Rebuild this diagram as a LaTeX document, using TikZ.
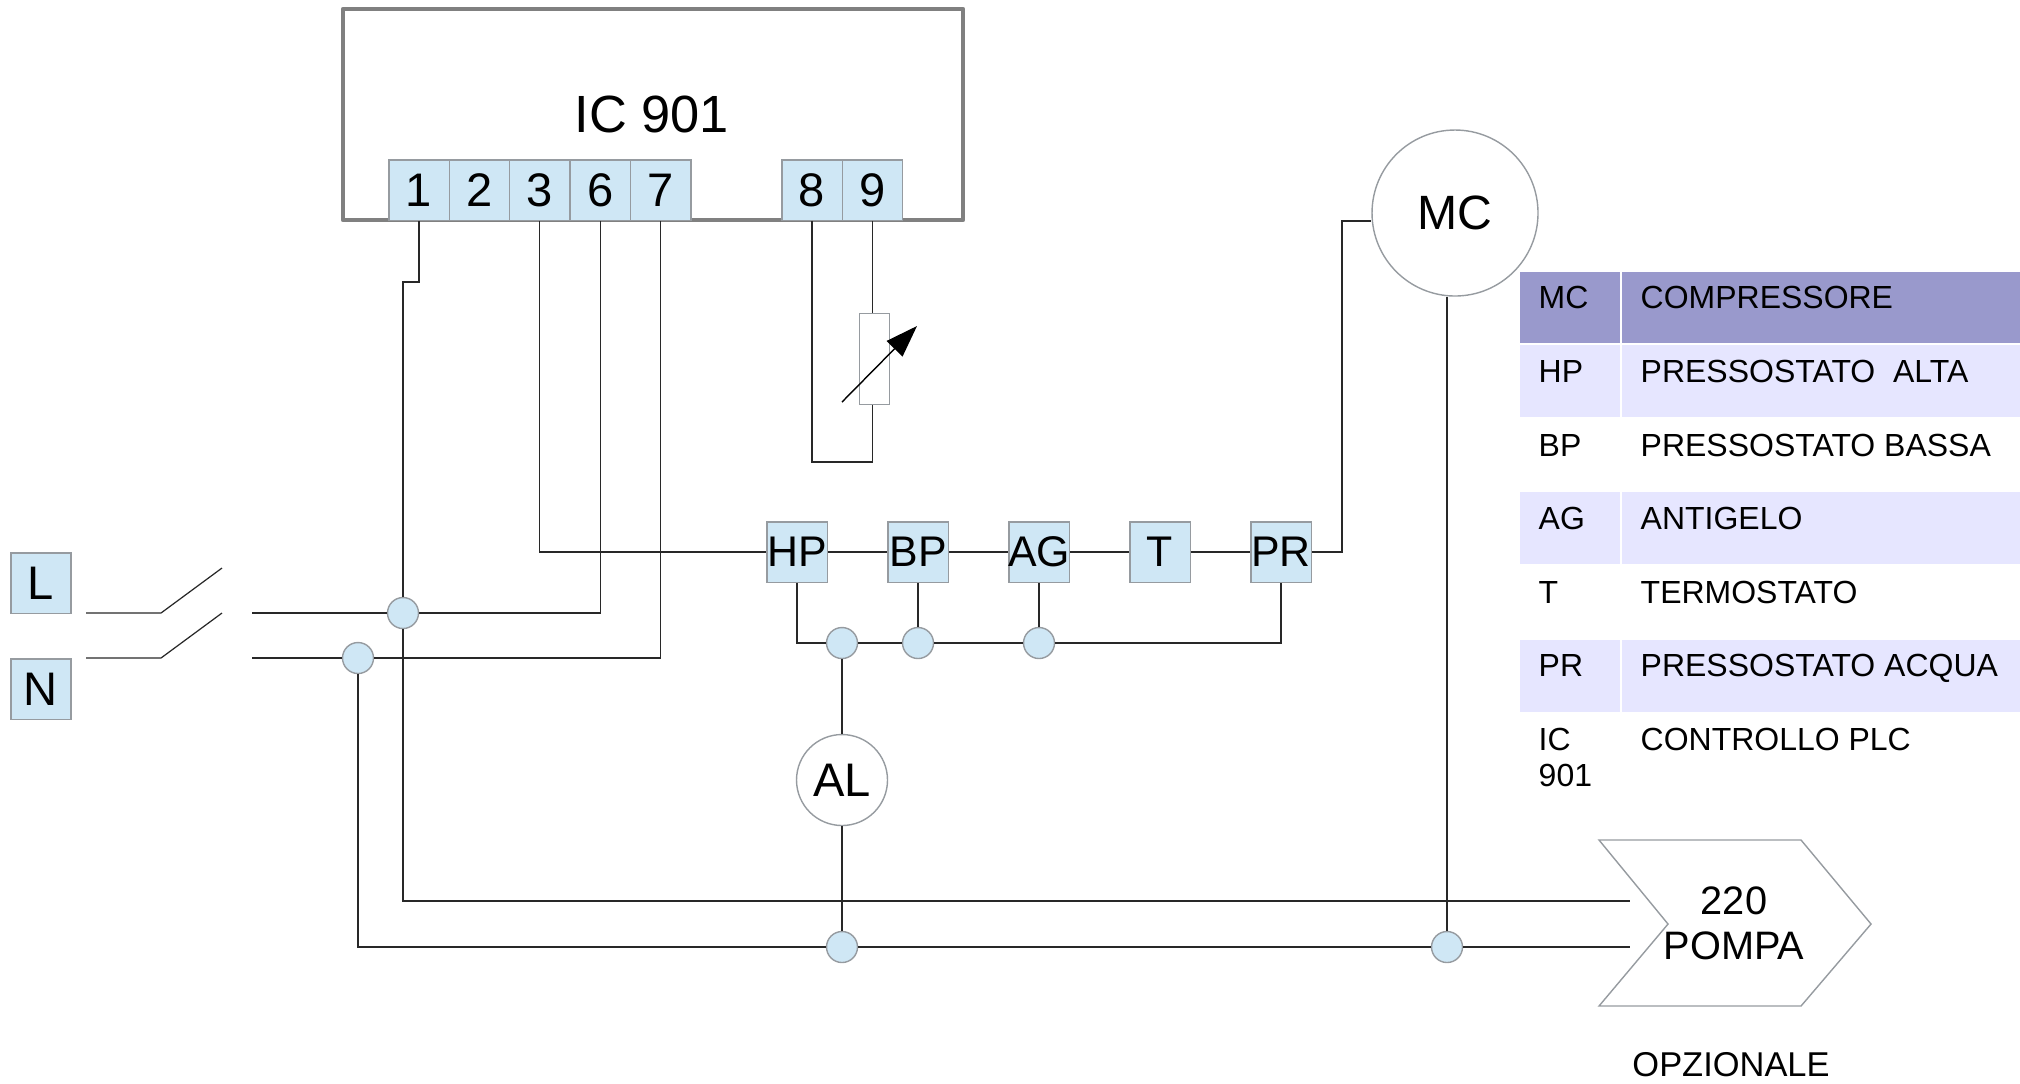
\documentclass[tikz,border=0pt]{standalone}
\usepackage{fontspec}
\setmainfont{Liberation Sans}
\usetikzlibrary{arrows.meta}
\definecolor{myTerm}{RGB}{207, 231, 245}
\definecolor{myEdge}{RGB}{150, 155, 160}
\definecolor{myWire}{RGB}{40, 40, 40}
\definecolor{myFrame}{RGB}{128, 128, 128}
\definecolor{myHead}{RGB}{153, 153, 204}
\definecolor{myBand}{RGB}{230, 230, 255}
\newcommand{\keepWidth}[1]{\makebox[0pt]{#1}}
\tikzset{
	term/.style={draw=myEdge, fill=myTerm, line width=0.4pt, inner sep=0pt, minimum width=6.04mm, minimum height=6.04mm, font=\fontsize{13.4}{15}\selectfont},
	sensor/.style={term, font=\fontsize{12.2}{14}\selectfont},
	joint/.style={draw=myEdge, fill=myTerm, circle, line width=0.4pt, inner sep=0pt, minimum size=3.1mm},
	round/.style={draw=myEdge, circle, line width=0.4pt, inner sep=0pt, font=\fontsize{13.4}{15}\selectfont},
	wire/.style={draw=myWire, line width=0.35pt},
	tabtext/.style={anchor=base west, inner sep=0pt, align=left, font=\fontsize{9.1}{10}\selectfont}
}

\begin{document}
\begin{tikzpicture}[x=0.1mm, y=-0.1mm]
	\useasboundingbox (0,0) rectangle (2020,1083);

	% controller
	\draw[myFrame, line width=1.3pt, line join=round] (343,9) rectangle (963,220);
	\draw (652,114) node[font=\fontsize{14.9}{18}\selectfont] (ic) {IC 901};
	\draw (419,190) node[term] (t1) {1};
	\draw (479.4,190) node[term] (t2) {2};
	\draw (539.8,190) node[term] (t3) {3};
	\draw (600.2,190) node[term] (t6) {6};
	\draw (660.6,190) node[term] (t7) {7};
	\draw (812,190) node[term] (t8) {8};
	\draw (872.4,190) node[term] (t9) {9};

	% line and neutral
	\draw (41,583) node[term] (L) {L};
	\draw (41,689) node[term] (N) {N};
	\draw (403,613) node[joint] (jL) {};
	\draw (358,658) node[joint] (jN) {};

	% safety chain
	\draw (797,552) node[sensor] (HP) {\keepWidth{HP}};
	\draw (918,552) node[sensor] (BP) {\keepWidth{BP}};
	\draw (1039,552) node[sensor] (AG) {\keepWidth{AG}};
	\draw (1160,552) node[sensor] (T) {T};
	\draw (1281,552) node[sensor] (PR) {\keepWidth{PR}};
	\draw (842,643) node[joint] (jHP) {};
	\draw (918,643) node[joint] (jBP) {};
	\draw (1039,643) node[joint] (jAG) {};

	% loads
	\draw (1455,213) node[round, minimum size=16.6mm, font=\fontsize{13.7}{16}\selectfont] (MC) {MC};
	\draw (842,780) node[round, minimum size=9.1mm] (AL) {AL};
	\draw (842,947) node[joint] (jAL) {};
	\draw (1447,947) node[joint] (jMC) {};

	% probe on 8 and 9
	\draw (874.5,359) node[draw=myEdge, line width=0.4pt, inner sep=0pt, minimum width=3mm, minimum height=9.1mm] (probe) {};
	\coordinate (probeTail) at (842,402);
	\coordinate (probeTip) at (917,326);
	\draw[black, line width=0.4pt, -{Triangle[length=3.2mm, width=2.2mm]}] (probeTail) -- (probeTip);

	% switch
	\coordinate (swL1) at (86,613);
	\coordinate (swL2) at (161,613);
	\coordinate (swL3) at (222,568);
	\coordinate (swL4) at (252,613);
	\coordinate (swN1) at (86,658);
	\coordinate (swN2) at (161,658);
	\coordinate (swN3) at (222,613);
	\coordinate (swN4) at (252,658);
	\draw[wire] (swL1) -- (swL2) -- (swL3);
	\draw[wire] (swN1) -- (swN2) -- (swN3);
	\draw[wire] (swL4) -- (jL);
	\draw[wire] (swN4) -- (jN);

	% pump
	\coordinate (pA) at (1599,840);
	\coordinate (pB) at (1801,840);
	\coordinate (pC) at (1871,924);
	\coordinate (pD) at (1801,1006);
	\coordinate (pE) at (1599,1006);
	\coordinate (pF) at (1668,924);
	\draw[myEdge, line width=0.4pt, line join=miter] (pA) -- (pB) -- (pC) -- (pD) -- (pE) -- (pF) -- cycle;
	\draw (1734,923) node[align=center, font=\fontsize{11.3}{12.8}\selectfont] (pump) {220\\POMPA};
	\draw (1731,1065) node[font=\fontsize{9.8}{12}\selectfont] (opt) {OPZIONALE};
	\coordinate (feedL) at (1630,901);
	\coordinate (feedN) at (1630,947);

	\path[wire]
	(t1.south) -- ++(0,61) -- ++(-16,0) -- (jL.north)
	(jL.south) |- (feedL)
	(t3.south) |- (HP.west)
	(t6.south) |- (jL.east)
	(t7.south) |- (jN.east)
	(jN.south) |- (jAL.west)
	(jAL.east) -- (jMC.west)
	(jMC.east) -- (feedN)
	(t8.south) -- ++(0,241) -| (t9 |- probe.south)
	(t9.south) -- (t9 |- probe.north)
	(HP) -- (BP)
	(BP) -- (AG)
	(AG) -- (T)
	(T) -- (PR)
	(HP.south) |- (jHP.west)
	(jHP.east) -- (jBP.west)
	(jBP.east) -- (jAG.west)
	(jAG.east) -| (PR.south)
	(BP.south) -- (jBP.north)
	(AG.south) -- (jAG.north)
	(jHP.south) -- (AL.north)
	(AL.south) -- (jAL.north)
	(PR.east) -- ++(30,0) |- (MC.west |- t1.south)
	(MC.south -| jMC) -- (jMC.north)
	;

	% legend
	\fill[myHead] (1520,272) rectangle (1620,343);
	\fill[myHead] (1622,272) rectangle (2020,343);
	\fill[myBand] (1520,345) rectangle (1620,417);
	\fill[myBand] (1622,345) rectangle (2020,417);
	\fill[myBand] (1520,492) rectangle (1620,564);
	\fill[myBand] (1622,492) rectangle (2020,564);
	\fill[myBand] (1520,640) rectangle (1620,712);
	\fill[myBand] (1622,640) rectangle (2020,712);
	\draw (1538,308.5) node[tabtext] (kMC) {MC};
	\draw (1640,308.5) node[tabtext] (vMC) {COMPRESSORE};
	\draw (1538,382.5) node[tabtext] (kHP) {HP};
	\draw (1640,382.5) node[tabtext] (vHP) {PRESSOSTATO\ \ ALTA};
	\draw (1538,456) node[tabtext] (kBP) {BP};
	\draw (1640,456) node[tabtext] (vBP) {PRESSOSTATO BASSA};
	\draw (1538,529.5) node[tabtext] (kAG) {AG};
	\draw (1640,529.5) node[tabtext] (vAG) {ANTIGELO};
	\draw (1538,603) node[tabtext] (kT) {T};
	\draw (1640,603) node[tabtext] (vT) {TERMOSTATO};
	\draw (1538,676.5) node[tabtext] (kPR) {PR};
	\draw (1640,676.5) node[tabtext] (vPR) {PRESSOSTATO ACQUA};
	\draw (1538,750.5) node[tabtext] (kIC) {IC};
	\draw (1538,786.5) node[tabtext] (kIC2) {901};
	\draw (1640,750.5) node[tabtext] (vIC) {CONTROLLO PLC};
\end{tikzpicture}
\end{document}
